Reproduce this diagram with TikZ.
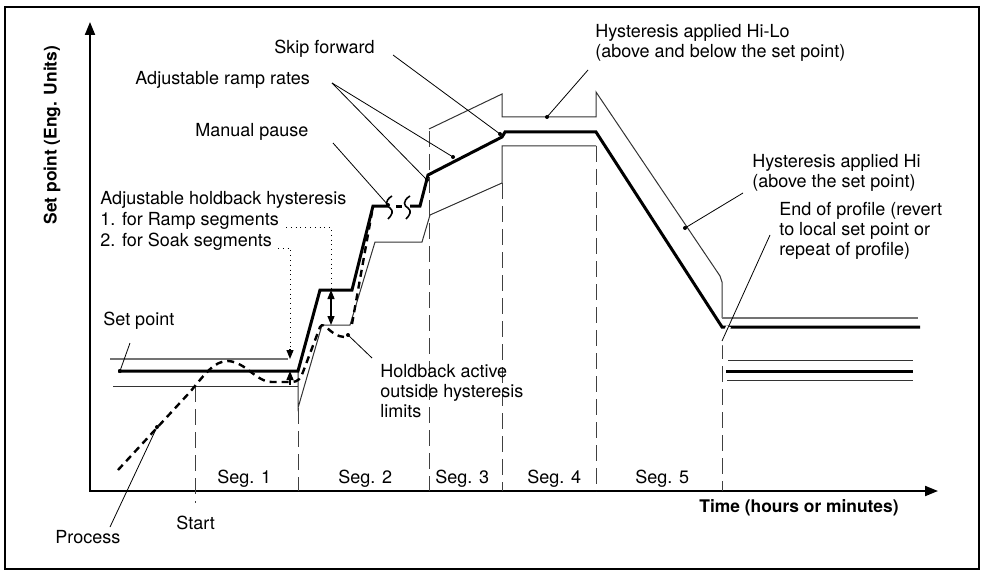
\documentclass[tikz,border=0pt]{standalone}
\usepackage{fontspec}
\setmainfont{TeX Gyre Heros}
\usetikzlibrary{arrows.meta}
\begin{document}
\begin{tikzpicture}[x=0.5pt,y=-0.5pt,
  lbl/.style={font=\fontsize{9}{10}\selectfont, inner sep=0pt, anchor=west, align=left},
  axlbl/.style={font=\fontsize{8.7}{10}\selectfont\bfseries, inner sep=0pt},
  spline/.style={line width=1.5pt, line join=miter},
  hyst/.style={line width=0.5pt, black!80},
  hystg/.style={line width=0.6pt, black!55},
  segline/.style={line width=0.5pt, black!75, dash pattern=on 8pt off 3.5pt},
  procline/.style={line width=1.2pt, dash pattern=on 3.5pt off 2.5pt},
  pointer/.style={line width=0.4pt},
  dotmark/.style={circle, fill, inner sep=0pt, minimum size=2pt},
  tri/.style={-{Triangle[length=4.5pt,width=3.5pt]}},
  axis/.style={line width=1pt},
  wave/.style={line width=0.8pt},
]
\useasboundingbox (0,0) rectangle (983,572);
% frame
\draw[line width=0.8pt] (5,7) rectangle (979,569);

% axes
\coordinate (ytop) at (90,22);
\coordinate (orig) at (90,491);
\coordinate (xend) at (938,491);
\draw[axis, {Triangle[length=6.5pt,width=5pt]}-{Triangle[length=6.5pt,width=5pt]}] (ytop) -- (orig) -- (xend);
\node[axlbl, rotate=90] (ylab) at (52,135) {Set point (Eng. Units)};
\node[axlbl] (xlab) at (799,508) {Time (hours or minutes)};

% segment boundaries
\draw[segline] (195,386) -- (195,503);
\draw[segline] (298,408) -- (298,491);
\draw[segline] (429,131) -- (429,491);
\draw[segline] (502,183) -- (502,491);
\draw[segline] (596,146) -- (596,491);
\draw[segline] (722,343) -- (722,491);

% hysteresis lines
\draw[hystg] (110,359) -- (288,359);
\draw[hyst] (113,386) -- (298,386);
\draw[hyst] (298,371) -- (298,408) -- (322,325) -- (350,325) -- (375,242) -- (422,242) -- (430,215) -- (502,183) -- (502,146) -- (596,146);
\draw[hyst] (429,129) -- (502,94) -- (502,117) -- (596,117) -- (596,92) -- (720,276) -- (722,282) -- (722,318);
\draw[hystg] (722,318) -- (918,318);

% process
\draw[procline] (118,470) -- (190,392) .. controls (205,374) and (214,361) .. (228,361)
  .. controls (246,362) and (256,382) .. (272,382) -- (292,382)
  .. controls (298,382) and (301,378) .. (303,372) -- (320,327)
  .. controls (324,320) and (330,336) .. (344,337);
\draw[procline] (352,324) -- (372,212);

% set point profile
\draw[spline] (118,371) -- (298,371) -- (320,290) -- (352,290) -- (373,206) -- (388,206);
\draw[spline] (396,206) -- (402,206);
\draw[spline] (410,206) -- (420,206) -- (428,175) -- (502,137) -- (505,132) -- (596,132) -- (722,327) -- (920,327);
\draw[wave] (392,196) .. controls (384,201) and (386,206) .. (390,208) .. controls (394,211) and (392,215) .. (388,219);
\draw[wave] (410,196) .. controls (402,201) and (404,206) .. (408,208) .. controls (412,211) and (410,215) .. (406,219);

% legend-like lines at right
\draw[hyst] (728,360) -- (913,360);
\draw[spline] (726,371) -- (913,371);
\draw[hyst] (727,380) -- (913,380);

% texts
\node[lbl] (tskip) at (274,49) {Skip forward};
\node[lbl] (tramp) at (135,80) {Adjustable ramp rates};
\node[lbl] (tpause) at (195,132) {Manual pause};
\node[lbl] (thold) at (100,200) {Adjustable holdback hysteresis};
\node[lbl] (thold1) at (100,221) {1. for Ramp segments};
\node[lbl] (thold2) at (100,242) {2. for Soak segments};
\node[lbl] (thilo) at (595,43) {Hysteresis applied Hi-Lo\\(above and below the set point)};
\node[lbl] (thi) at (752,173) {Hysteresis applied Hi\\(above the set point)};
\node[lbl] (tend) at (779,231) {End of profile (revert\\to local set point or\\repeat of profile)};
\node[lbl] (tsp) at (103,321) {Set point};
\node[lbl] (thb) at (380,391) {Holdback active\\outside hysteresis\\limits};
\node[lbl] (tproc) at (55,537) {Process};
\node[lbl] (tstart) at (176,523) {Start};
\node[lbl] (s1) at (217,479) {Seg. 1};
\node[lbl] (s2) at (338,479) {Seg. 2};
\node[lbl] (s3) at (435,479) {Seg. 3};
\node[lbl] (s4) at (527,479) {Seg. 4};
\node[lbl] (s5) at (635,479) {Seg. 5};

% holdback arrows
\coordinate (r1) at (286,227);
\coordinate (r2) at (331,289);
\draw[pointer, dotted] (r1) -| (r2);
\draw[line width=0.6pt, {Triangle[length=4.5pt,width=3.5pt]}-{Triangle[length=4.5pt,width=3.5pt]}] (331,290) -- (331,325);
\coordinate (k1) at (278,248);
\coordinate (k2) at (290,351);
\draw[pointer, dotted] (k1) -| (k2);
\draw[line width=0.6pt, tri] (290,349) -- (290,359);
\draw[line width=0.6pt, tri] (290,385) -- (290,371);

% pointers
\coordinate (pskip) at (393,55);   \node[dotmark] (dskip) at (500,134) {};
\coordinate (pramp) at (332,83);   \node[dotmark] (dramp1) at (453,157) {}; \node[dotmark] (dramp2) at (427,180) {};
\coordinate (ppause) at (333,143); \node[dotmark] (dpause) at (388,205) {};
\coordinate (philo) at (588,70);   \node[dotmark] (dhilo) at (547,117) {};
\coordinate (phi) at (743,193);    \node[dotmark] (dhi) at (685,228) {};
\coordinate (pend) at (770,235);   \node[dotmark] (dend) at (722,341) {};
\coordinate (phb) at (372,358);    \node[dotmark] (dhb) at (348,335) {};
\coordinate (pproc) at (110,527);  \node[dotmark] (dproc) at (157,427) {};
\coordinate (psp) at (130,343);    \node[dotmark] (dsp) at (120,371) {};
\draw[pointer] (pskip) -- (dskip.center);
\draw[pointer] (pramp) -- (dramp1.center);
\draw[pointer] (pramp) -- (dramp2.center);
\draw[pointer] (ppause) -- (dpause.center);
\draw[pointer] (philo) -- (dhilo.center);
\draw[pointer] (phi) -- (dhi.center);
\draw[pointer, preaction={draw=white, line width=2.5pt, shorten >=8pt, shorten <=60pt}] (pend) -- (dend.center);
\draw[pointer] (phb) -- (dhb.center);
\draw[pointer] (pproc) -- (dproc.center);
\draw[pointer] (psp) -- (dsp.center);
\end{tikzpicture}
\end{document}
